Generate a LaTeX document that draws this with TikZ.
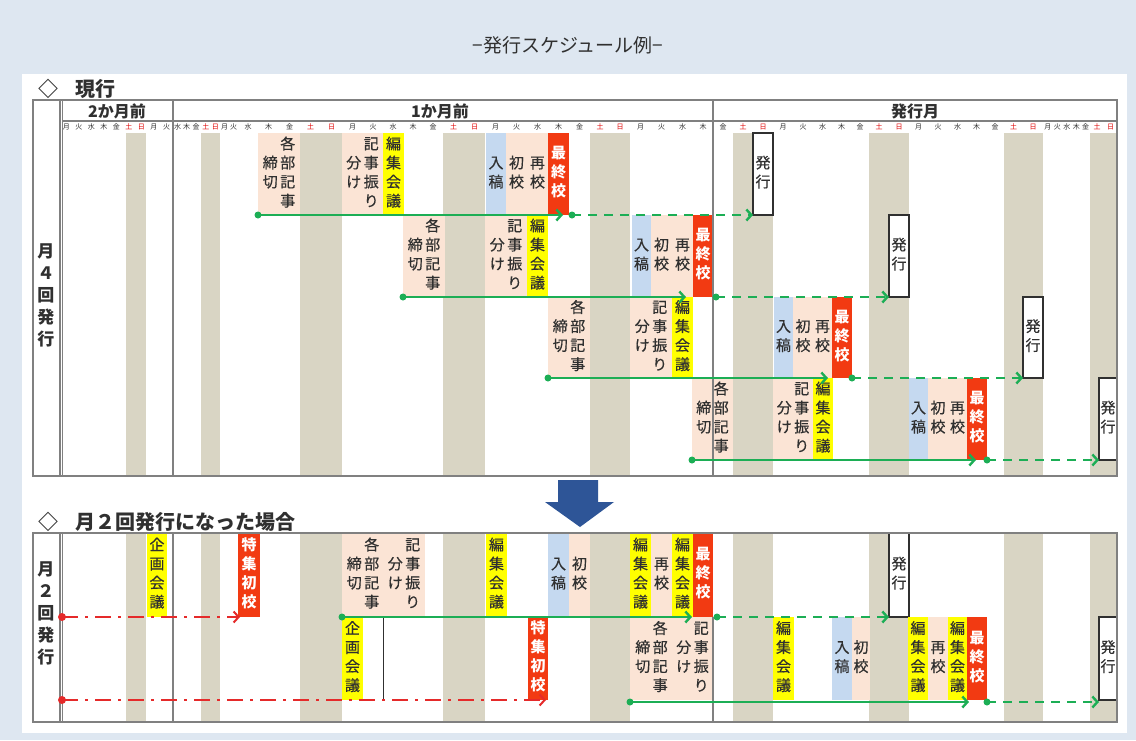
\documentclass[tikz,border=0pt]{standalone}
\usepackage{fontspec}
\setmainfont{Noto Sans CJK JP}
\newfontfamily\evfam[FakeBold=0.5]{Noto Sans CJK JP}
\usetikzlibrary{arrows.meta,calc}
\definecolor{bgblue}{HTML}{DEE7F1}
\definecolor{wkgray}{HTML}{D9D5C4}
\definecolor{peach}{HTML}{FBE4D5}
\definecolor{inblue}{HTML}{C5D9F0}
\definecolor{ylw}{HTML}{FFFF00}
\definecolor{redb}{HTML}{F23A12}
\definecolor{grn}{HTML}{1CAE55}
\definecolor{dred}{HTML}{E52A2A}
\definecolor{navy}{HTML}{2E5597}
\definecolor{txt}{HTML}{303030}
\definecolor{dayred}{HTML}{E00000}
\definecolor{bord}{HTML}{808080}
\newcommand\vcol[1]{\begin{tabular}[c]{@{}c@{}}#1\end{tabular}}
\newcommand\evfont{\evfam\fontsize{15}{16}\selectfont\def\arraystretch{1.19}}
\newcommand\lblfont{\fontsize{17}{18}\selectfont\bfseries\def\arraystretch{1.22}}
% name, fill, x1, y1, x2, y2, style, text
\newcommand\ebox[8]{\node[ev,fill=#2,minimum width={(#5)-(#3)},minimum height={(#6)-(#4)},#7] (#1) at (#3,#4) {#8};}
\begin{document}
\begin{tikzpicture}[x=1pt,y=-1pt,
  ev/.style={inner sep=0pt,outer sep=0pt,anchor=north west,text=txt,font=\evfont},
  redtxt/.style={text=white,font=\fontsize{15}{16}\selectfont\bfseries\def\arraystretch{1.19}},
  hk/.style={draw=txt,line width=1.1pt},
  gline/.style={grn,line width=2.4pt},
  gdash/.style={grn,line width=2.4pt,dash pattern=on 9pt off 7pt},
  rdash/.style={dred,line width=2pt,dash pattern=on 16pt off 7pt on 3pt off 7pt},
  tip/.style={-{Straight Barb[length=5pt,width=11pt]}},
  frame/.style={bord,line width=1.1pt},
  hdr/.style={font=\fontsize{16}{18}\selectfont\bfseries,text=txt},
  sec/.style={anchor=west,font=\fontsize{20}{22}\selectfont\bfseries,text=txt}]
\useasboundingbox (0,0) rectangle (1136,740);
\fill[bgblue] (0,0) rectangle (1136,740);
\fill[white] (22,74) rectangle (1127,733);
\node[text=txt] (title) at (568,45) {\fontsize{19}{22}\selectfont −発行スケジュール例−};

% section headings
\node[sec] (sec1) at (35,89) {◇\hspace{17pt}現行};
\node[sec] (sec2) at (35,522) {◇\hspace{17pt}月２回発行になった場合};

% weekend columns
\foreach \a/\b in {126/146,201/220,300/342,443/485,590/630,733/773,869/909,1004/1043,1090/1117}{
  \fill[wkgray] (\a,133) rectangle (\b,476);
  \fill[wkgray] (\a,533) rectangle (\b,722);
}

% headers
\node[hdr] (hm2) at (117,111) {2か月前};
\node[hdr] (hm1) at (440,111) {1か月前};
\node[hdr] (hm0) at (915,111) {発行月};

% day labels
\foreach \l/\a/\b/\c [count=\i] in {月/60/72.5/txt,火/72.5/85/txt,水/85/97.5/txt,木/97.5/110/txt,金/110/122.5/txt,土/122.5/135/dayred,日/135/147.5/dayred,月/147.5/160/txt,火/160/173/txt,
水/173/182/txt,木/182/191/txt,金/191/201/txt,土/201/210.5/dayred,日/210.5/220/dayred,月/220/229/txt,火/229/238/txt,
水/238/258/txt,木/258/279/txt,金/279/300/txt,土/300/321/dayred,日/321/342/dayred,
月/342/363/txt,火/363/383/txt,水/383/403/txt,木/403/423/txt,金/423/443/txt,土/443/464/dayred,日/464/485/dayred,
月/485/506/txt,火/506/527/txt,水/527/548/txt,木/548/569/txt,金/569/590/txt,土/590/610/dayred,日/610/630/dayred,
月/630/651/txt,火/651/672/txt,水/672/693/txt,木/693/713/txt,金/713/733/txt,土/733/753/dayred,日/753/773/dayred,
月/773/793/txt,火/793/813/txt,水/813/832/txt,木/832/851/txt,金/851/869/txt,土/869/889/dayred,日/889/909/dayred,
月/909/928/txt,火/928/948/txt,水/948/967/txt,木/967/986/txt,金/986/1004/txt,土/1004/1023/dayred,日/1023/1043/dayred,
月/1043/1052.5/txt,火/1052.5/1062/txt,水/1062/1071.5/txt,木/1071.5/1081/txt,金/1081/1090/txt,土/1090/1104/dayred,日/1104/1117/dayred}{
  \node[font=\fontsize{7}{7}\selectfont,text=\c,inner sep=0pt] (dl\i) at ({(\a+\b)/2},127) {\l};
}

% ===== upper chart events =====
% row 1
\ebox{k1}{peach}{258}{133}{300}{215}{}{\vcol{締\\切}\,\vcol{各\\部\\記\\事}}
\ebox{f1}{peach}{342}{133}{383}{215}{}{\vcol{分\\け}\,\vcol{記\\事\\振\\り}}
\ebox{m1}{ylw}{383}{133}{404}{215}{}{\vcol{編\\集\\会\\議}}
\ebox{n1}{inblue}{486}{133}{506}{215}{}{\vcol{入\\稿}}
\ebox{c1}{peach}{506}{133}{527}{215}{}{\vcol{初\\校}}
\ebox{s1}{peach}{527}{133}{548}{215}{}{\vcol{再\\校}}
\ebox{r1}{redb}{548}{133}{569}{215}{redtxt}{\vcol{最\\終\\校}}
\ebox{h1}{white}{753}{133}{773}{215}{hk}{\vcol{発\\行}}
% row 2
\ebox{k2}{peach}{403}{215}{445}{297}{}{\vcol{締\\切}\,\vcol{各\\部\\記\\事}}
\ebox{f2}{peach}{485}{215}{527}{297}{}{\vcol{分\\け}\,\vcol{記\\事\\振\\り}}
\ebox{m2}{ylw}{527}{215}{548}{297}{}{\vcol{編\\集\\会\\議}}
\ebox{n2}{inblue}{632}{215}{651}{297}{}{\vcol{入\\稿}}
\ebox{c2}{peach}{651}{215}{672}{297}{}{\vcol{初\\校}}
\ebox{s2}{peach}{672}{215}{693}{297}{}{\vcol{再\\校}}
\ebox{r2}{redb}{693}{215}{713}{297}{redtxt}{\vcol{最\\終\\校}}
\ebox{h2}{white}{889}{215}{909}{297}{hk}{\vcol{発\\行}}
% row 3
\ebox{k3}{peach}{548}{297}{590}{378}{}{\vcol{締\\切}\,\vcol{各\\部\\記\\事}}
\ebox{f3}{peach}{630}{297}{672}{378}{}{\vcol{分\\け}\,\vcol{記\\事\\振\\り}}
\ebox{m3}{ylw}{672}{297}{693}{378}{}{\vcol{編\\集\\会\\議}}
\ebox{n3}{inblue}{774}{297}{793}{378}{}{\vcol{入\\稿}}
\ebox{c3}{peach}{793}{297}{813}{378}{}{\vcol{初\\校}}
\ebox{s3}{peach}{813}{297}{832}{378}{}{\vcol{再\\校}}
\ebox{r3}{redb}{832}{297}{852}{378}{redtxt}{\vcol{最\\終\\校}}
\ebox{h3}{white}{1023}{297}{1043}{378}{hk}{\vcol{発\\行}}
% row 4
\ebox{k4}{peach}{692}{378}{733}{460}{}{\vcol{締\\切}\,\vcol{各\\部\\記\\事}}
\ebox{f4}{peach}{773}{378}{813}{460}{}{\vcol{分\\け}\,\vcol{記\\事\\振\\り}}
\ebox{m4}{ylw}{813}{378}{833}{460}{}{\vcol{編\\集\\会\\議}}
\ebox{n4}{inblue}{909}{378}{928}{460}{}{\vcol{入\\稿}}
\ebox{c4}{peach}{928}{378}{948}{460}{}{\vcol{初\\校}}
\ebox{s4}{peach}{948}{378}{967}{460}{}{\vcol{再\\校}}
\ebox{r4}{redb}{967}{378}{987}{460}{redtxt}{\vcol{最\\終\\校}}
\ebox{h4}{white}{1099}{378}{1117}{460}{hk}{\vcol{発\\行}}

% ===== lower chart events =====
% row A
\ebox{la1}{ylw}{147}{533}{167}{617}{}{\vcol{企\\画\\会\\議}}
\ebox{la2}{redb}{238}{533}{260}{617}{redtxt}{\vcol{特\\集\\初\\校}}
\ebox{la3}{peach}{342}{533}{384}{617}{}{\vcol{締\\切}\,\vcol{各\\部\\記\\事}}
\ebox{la4}{peach}{383}{533}{425}{617}{}{\vcol{分\\け}\,\vcol{記\\事\\振\\り}}
\ebox{la5}{ylw}{486}{533}{507}{617}{}{\vcol{編\\集\\会\\議}}
\ebox{la6}{inblue}{548}{533}{569}{617}{}{\vcol{入\\稿}}
\ebox{la7}{peach}{569}{533}{590}{617}{}{\vcol{初\\校}}
\ebox{la8}{ylw}{630}{533}{651}{617}{}{\vcol{編\\集\\会\\議}}
\ebox{la9}{peach}{651}{533}{672}{617}{}{\vcol{再\\校}}
\ebox{la10}{ylw}{672}{533}{693}{617}{}{\vcol{編\\集\\会\\議}}
\ebox{la11}{redb}{693}{533}{713}{617}{redtxt}{\vcol{最\\終\\校}}
\ebox{lh1}{white}{889}{533}{909}{617}{hk}{\vcol{発\\行}}
% row B
\ebox{lb1}{ylw}{342}{617}{363}{700}{}{\vcol{企\\画\\会\\議}}
\ebox{lb2}{redb}{528}{617}{548}{700}{redtxt}{\vcol{特\\集\\初\\校}}
\ebox{lb3}{peach}{630}{617}{673}{700}{}{\vcol{締\\切}\,\vcol{各\\部\\記\\事}}
\ebox{lb4}{peach}{672}{617}{713}{700}{}{\vcol{分\\け}\,\vcol{記\\事\\振\\り}}
\ebox{lb5}{ylw}{773}{617}{794}{700}{}{\vcol{編\\集\\会\\議}}
\ebox{lb6}{inblue}{832}{617}{852}{700}{}{\vcol{入\\稿}}
\ebox{lb7}{peach}{852}{617}{870}{700}{}{\vcol{初\\校}}
\ebox{lb8}{ylw}{908}{617}{928}{700}{}{\vcol{編\\集\\会\\議}}
\ebox{lb9}{peach}{928}{617}{948}{700}{}{\vcol{再\\校}}
\ebox{lb10}{ylw}{948}{617}{967}{700}{}{\vcol{編\\集\\会\\議}}
\ebox{lb11}{redb}{967}{617}{987}{700}{redtxt}{\vcol{最\\終\\校}}
\ebox{lh2}{white}{1099}{617}{1117}{700}{hk}{\vcol{発\\行}}
\draw[txt,line width=0.7pt] (383,618) -- (383,700);

% ===== frames =====
\draw[frame] (33,100) rectangle (1117,476);
\draw[frame] (60,100) -- (60,476) (62.5,100) -- (62.5,476);
\draw[frame] (173,100) -- (173,476) (713,100) -- (713,476);
\draw[frame] (62.5,121) -- (1117,121);
\draw[frame] (33,533) rectangle (1117,722);
\draw[frame] (60,533) -- (60,722) (62.5,533) -- (62.5,722);
\draw[frame] (173,533) -- (173,722) (713,617) -- (713,722);

% left labels
\node[font=\lblfont,text=txt] (lab1) at (46,297) {\vcol{月\\４\\回\\発\\行}};
\node[font=\lblfont,text=txt] (lab2) at (46,615) {\vcol{月\\２\\回\\発\\行}};

% ===== upper arrows =====
\draw[gline,tip] (k1.south west) -- ([xshift=15pt]r1.south west);
\draw[gdash,tip] ([xshift=3pt]r1.south east) -- (h1.south west);
\draw[gline,tip] (k2.south west) -- ([xshift=-7pt]r2.south west);
\draw[gdash,tip] ([xshift=3pt]r2.south east) -- (h2.south west);
\draw[gline,tip] (k3.south west) -- ([xshift=-4pt]r3.south west);
\draw[gdash,tip] (r3.south east) -- (h3.south west);
\draw[gline,tip] (k4.south west) -- ([xshift=9pt]r4.south west);
\draw[gdash,tip] (r4.south east) -- (h4.south west);
\foreach \p in {k1.south west,k2.south west,k3.south west,k4.south west}
  \fill[grn] (\p) circle (3.5pt);
\fill[grn] ([xshift=3pt]r1.south east) circle (3.5pt);
\fill[grn] ([xshift=3pt]r2.south east) circle (3.5pt);
\fill[grn] (r3.south east) circle (3.5pt);
\fill[grn] (r4.south east) circle (3.5pt);

% ===== lower arrows =====
\coordinate (ra) at (62,617);
\coordinate (rb) at (62,700);
\draw[rdash,tip] (ra) -- ([xshift=2pt]la2.south west);
\fill[dred] (ra) circle (4pt);
\draw[rdash,tip] (rb) -- ([xshift=-2pt]lb2.south east);
\fill[dred] (rb) circle (4pt);
\draw[gline,tip] (la3.south west) -- ([xshift=-1pt]la11.south west);
\draw[gdash,tip] ([xshift=4pt]la11.south east) -- (lh1.south west);
\fill[grn] (la3.south west) circle (3.5pt);
\fill[grn] ([xshift=4pt]la11.south east) circle (3.5pt);
\draw[gline,tip] ([yshift=-2pt]lb3.south west) -- ([xshift=2pt,yshift=-2pt]lb11.south west);
\draw[gdash,tip] ([yshift=-2pt]lb11.south east) -- ([yshift=-2pt]lh2.south west);
\fill[grn] ([yshift=-2pt]lb3.south west) circle (3.5pt);
\fill[grn] ([yshift=-2pt]lb11.south east) circle (3.5pt);

% big down arrow
\fill[navy] (558,480) -- (598,480) -- (598,502) -- (614,502) -- (580,527) -- (545,502) -- (558,502) -- cycle;
\end{tikzpicture}
\end{document}
